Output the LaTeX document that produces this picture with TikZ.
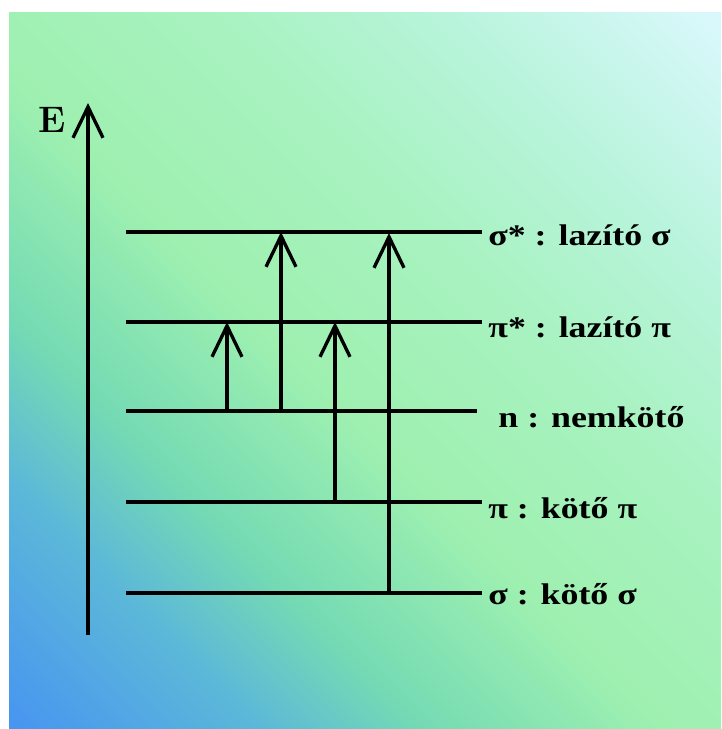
\documentclass[tikz,border=0pt]{standalone}
\usepackage{fontspec}
\newfontfamily\lblfont[FakeStretch=1.2]{Liberation Serif}
\usetikzlibrary{arrows.meta}

\definecolor{bgA}{HTML}{4896F0}
\definecolor{bgB}{HTML}{5CB8D8}
\definecolor{bgC}{HTML}{74DAB4}
\definecolor{bgD}{HTML}{9EF0B0}
\definecolor{bgE}{HTML}{A8F2C0}
\definecolor{bgF}{HTML}{B8F4DC}
\definecolor{bgG}{HTML}{DAF8FC}

\pgfdeclarehorizontalshading{bgshade}{100bp}{color(0bp)=(bgA); color(15bp)=(bgA);
  color(27bp)=(bgB); color(35bp)=(bgC); color(47bp)=(bgD); color(60bp)=(bgE);
  color(72bp)=(bgF); color(85bp)=(bgG); color(100bp)=(bgG)}

\begin{document}
\begin{tikzpicture}[
    x=0.02cm, y=-0.02cm,
    lvlline/.style={draw=black, line width=1.9pt},
    jump/.style={
        draw=black, line width=1.9pt,
        -{Straight Barb[length=0.62cm, width=0.6cm]}
    },
    lvlname/.style={
        anchor=base west, inner sep=0pt,
        font=\lblfont\bfseries\fontsize{17}{19}\selectfont
    }
]
\useasboundingbox (0,0) rectangle (721,729);

% Background
\fill[white] (0,0) rectangle (721,729);
\shade[shading=bgshade, shading angle=45] (9,13) rectangle (721,729);

% 1. ENERGY AXIS
\coordinate (Ebot) at (88,635);
\coordinate (Etop) at (88,103);
\draw[jump] (Ebot) -- (Etop);
\node[font=\bfseries\fontsize{21}{24}\selectfont, inner sep=0pt] (E) at (52,120) {E};

% 2. LEVELS
\coordinate (SSl) at (126,232); \coordinate (SSr) at (482,232);
\coordinate (PSl) at (126,322); \coordinate (PSr) at (482,322);
\coordinate (Nl) at (126,411);  \coordinate (Nr) at (477,411);
\coordinate (Pl) at (126,502);  \coordinate (Pr) at (482,502);
\coordinate (Sl) at (126,593);  \coordinate (Sr) at (482,593);
\draw[lvlline] (SSl) -- (SSr);
\draw[lvlline] (PSl) -- (PSr);
\draw[lvlline] (Nl) -- (Nr);
\draw[lvlline] (Pl) -- (Pr);
\draw[lvlline] (Sl) -- (Sr);

% Level names
\node[lvlname] (SSname) at (488,246) {σ* : lazító σ};
\node[lvlname] (PSname) at (488,337) {π* : lazító π};
\node[lvlname] (Nname) at (498,427) {n : nemkötő};
\node[lvlname] (Pname) at (488,518) {π : kötő π};
\node[lvlname] (Sname) at (488,604) {σ : kötő σ};

% 3. TRANSITIONS
\coordinate (T1a) at (227,411); \coordinate (T1b) at (227,322); % n -> pi*
\coordinate (T2a) at (281,411); \coordinate (T2b) at (281,232); % n -> sigma*
\coordinate (T3a) at (335,502); \coordinate (T3b) at (335,322); % pi -> pi*
\coordinate (T4a) at (389,593); \coordinate (T4b) at (389,233); % sigma -> sigma*
\draw[jump] (T1a) -- (T1b);
\draw[jump] (T2a) -- (T2b);
\draw[jump] (T3a) -- (T3b);
\draw[jump] (T4a) -- (T4b);

\end{tikzpicture}
\end{document}
